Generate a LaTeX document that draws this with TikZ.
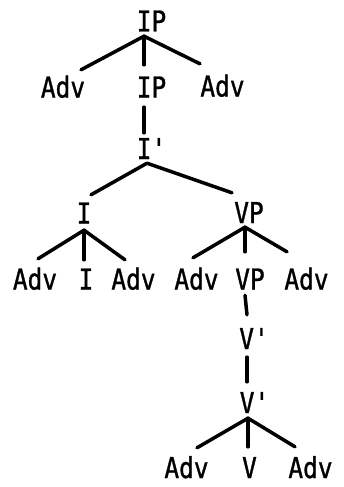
\documentclass[tikz,border=0pt]{standalone}
\usepackage{fontspec}
\setmonofont{DejaVu Sans Mono}[FakeStretch=0.85,FakeBold=1]
\usepackage{tikz}

\begin{document}
\begin{tikzpicture}[x=1pt,y=-1pt,
    cat/.style={font=\ttfamily\fontsize{28.8}{32}\selectfont,inner sep=1pt,
        text height=21pt,text depth=0pt},
    branch/.style={line width=3.5pt,line cap=round}]
    \useasboundingbox (0,0) rectangle (343,487);

    % Labels
    \node[cat] (ipTop) at (151.5,21) {IP};
    \node[cat] (advA) at (63,87) {Adv};
    \node[cat] (ipMid) at (151.5,87) {IP};
    \node[cat] (advB) at (222.5,86) {Adv};
    \node[cat] (ibar) at (151.5,148.5) {I'};
    \node[cat] (infl) at (84,213) {I};
    \node[cat] (vp1) at (249,212.5) {VP};
    \node[cat] (advC) at (35,279) {Adv};
    \node[cat] (iLow) at (86,279) {I};
    \node[cat] (advD) at (133.5,279) {Adv};
    \node[cat] (advE) at (196.5,279) {Adv};
    \node[cat] (vp2) at (250,279) {VP};
    \node[cat] (advF) at (306.5,279) {Adv};
    \node[cat] (vbar1) at (254,338.5) {V'};
    \node[cat] (vbar2) at (254.5,402.5) {V'};
    \node[cat] (advG) at (186.5,467.5) {Adv};
    \node[cat] (vLow) at (249.5,467.5) {V};
    \node[cat] (advH) at (310.5,467.5) {Adv};

    % Branches
    \draw[branch] ([shift={(-7.5,3.5)}]ipTop.south) -- ([shift={(18,-5.5)}]advA.north);
    \draw[branch] ([shift={(-7.5,3.5)}]ipTop.south) -- ([shift={(-7.5,-10.5)}]ipMid.north);
    \draw[branch] ([shift={(-7.5,3.5)}]ipTop.south) -- ([shift={(-22.5,-10.5)}]advB.north);
    \draw[branch] ([shift={(-7.5,8.5)}]ipMid.south) -- ([shift={(-7.5,-4)}]ibar.north);
    \draw[branch] ([shift={(-4.5,3)}]ibar.south) -- ([shift={(7,-6.5)}]infl.north);
    \draw[branch] ([shift={(-4.5,3)}]ibar.south) -- ([shift={(-17,-8)}]vp1.north);
    \draw[branch] ([shift={(0,5.5)}]infl.south) -- ([shift={(3,-8.5)}]advC.north);
    \draw[branch] ([shift={(0,5.5)}]infl.south) -- ([shift={(-2,-7.5)}]iLow.north);
    \draw[branch] ([shift={(0,5.5)}]infl.south) -- ([shift={(-8.5,-7.5)}]advD.north);
    \draw[branch] ([shift={(-4,3)}]vp1.south) -- ([shift={(-3.5,-9.5)}]advE.north);
    \draw[branch] ([shift={(-4,3)}]vp1.south) -- ([shift={(-5,-15.5)}]vp2.north);
    \draw[branch] ([shift={(-4,3)}]vp1.south) -- ([shift={(-19.5,-15.5)}]advF.north);
    \draw[branch] ([shift={(-5,4.5)}]vp2.south) -- ([shift={(-7,-12)}]vbar1.north);
    \draw[branch] ([shift={(-7,7)}]vbar1.south) -- ([shift={(-7.5,-9)}]vbar2.north);
    \draw[branch] ([shift={(-6.5,4)}]vbar2.south) -- ([shift={(10.5,-8)}]advG.north);
    \draw[branch] ([shift={(-6.5,4)}]vbar2.south) -- ([shift={(-1.5,-9)}]vLow.north);
    \draw[branch] ([shift={(-6.5,4)}]vbar2.south) -- ([shift={(-15.5,-9)}]advH.north);
\end{tikzpicture}
\end{document}
